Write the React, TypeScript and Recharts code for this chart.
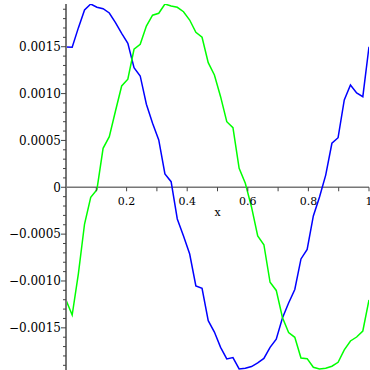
import React from "react";
import { LineChart, Line, XAxis, YAxis, ReferenceLine, ReferenceDot } from "recharts";

const xs = [
  0, 0.0204, 0.0408, 0.0612, 0.0816, 0.102, 0.1224, 0.1429, 0.1633, 0.1837,
  0.2041, 0.2245, 0.2449, 0.2653, 0.2857, 0.3061, 0.3265, 0.3469, 0.3673, 0.3878,
  0.4082, 0.4286, 0.449, 0.4694, 0.4898, 0.5102, 0.5306, 0.551, 0.5714, 0.5918,
  0.6122, 0.6327, 0.6531, 0.6735, 0.6939, 0.7143, 0.7347, 0.7551, 0.7755, 0.7959,
  0.8163, 0.8367, 0.8571, 0.8776, 0.898, 0.9184, 0.9388, 0.9592, 0.9796, 1,
];

const blueSeries = [
  0.001497, 0.001494, 0.001701, 0.001892, 0.001956, 0.001921, 0.001906, 0.00186, 0.001757, 0.001643,
  0.001537, 0.001276, 0.001188, 0.000886, 0.000683, 0.000505, 0.000142, 0.00006, -0.000338, -0.00052,
  -0.000712, -0.001053, -0.001078, -0.001424, -0.001545, -0.001708, -0.001832, -0.001818, -0.001939, -0.001931,
  -0.001913, -0.001875, -0.001827, -0.001708, -0.001621, -0.001395, -0.001235, -0.001091, -0.000765, -0.000664,
  -0.000306, -0.000104, 0.00013, 0.00047, 0.000529, 0.000932, 0.001092, 0.001006, 0.000967, 0.0015,
];

const greenSeries = [
  -0.001203, -0.001363, -0.000925, -0.000392, -0.000107, -0.000026, 0.000416, 0.00054, 0.000814, 0.001081,
  0.001153, 0.001473, 0.001526, 0.001721, 0.001836, 0.001857, 0.001956, 0.001935, 0.001921, 0.001874,
  0.001785, 0.001654, 0.001601, 0.00133, 0.001198, 0.000967, 0.0007, 0.000636, 0.000203, 0.000043,
  -0.00021, -0.00052, -0.000613, -0.001014, -0.001101, -0.00139, -0.00155, -0.001601, -0.001822, -0.001829,
  -0.001921, -0.00194, -0.001932, -0.00191, -0.001868, -0.001736, -0.00164, -0.001598, -0.001534, -0.001203,
];

const xTicks = [0.1, 0.2, 0.3, 0.4, 0.5, 0.6, 0.7, 0.8, 0.9, 1.0];
const xTickLabels = ["", "0.2", "", "0.4", "", "0.6", "", "0.8", "", "1"];

const yTicks = [
  -0.0019, -0.0018, -0.0017, -0.0016, -0.0015, -0.0014, -0.0013, -0.0012, -0.0011, -0.001,
  -0.0009, -0.0008, -0.0007, -0.0006, -0.0005, -0.0004, -0.0003, -0.0002, -0.0001, 0,
  0.0001, 0.0002, 0.0003, 0.0004, 0.0005, 0.0006, 0.0007, 0.0008, 0.0009, 0.001,
  0.0011, 0.0012, 0.0013, 0.0014, 0.0015, 0.0016, 0.0017, 0.0018, 0.0019,
];
const yMajorTicks = [-0.0015, -0.001, -0.0005, 0, 0.0005, 0.001, 0.0015];
const yMajorLabels = ["\u22120.0015", "\u22120.0010", "\u22120.0005", "0", "0.0005", "0.0010", "0.0015"];

const xAxisTitle = "x";

const data = xs.map((x, i) => ({ x, blue: blueSeries[i], green: greenSeries[i] }));

const FONT = "'DejaVu Serif', serif";

function YTick(props: any) {
  const { x, y, payload } = props;
  const v = payload.value;
  const idx = yMajorTicks.findIndex((t) => Math.abs(t - v) < 1e-9);
  const major = idx >= 0;
  return (
    <g>
      <line x1={x - (major ? 5 : 3)} x2={x} y1={y} y2={y} stroke="#444" strokeWidth={1} />
      {major && (
        <text x={x - 5} y={y} dy="0.36em" textAnchor="end" fontSize={12} fontFamily={FONT} fill="#000">
          {yMajorLabels[idx]}
        </text>
      )}
    </g>
  );
}

function makeXTick(label: string) {
  return (p: any) => (
    <g>
      <line x1={p.cx} x2={p.cx} y1={p.cy} y2={p.cy + 4} stroke="#444" strokeWidth={1} />
      {label && (
        <text x={p.cx} y={p.cy + 18} textAnchor="middle" fontSize={11} fontFamily={FONT} fill="#000">
          {label}
        </text>
      )}
    </g>
  );
}

function XTitle(p: any) {
  return (
    <text x={p.cx} y={p.cy + 29} textAnchor="middle" fontSize={11} fontFamily={FONT} fill="#000">
      {xAxisTitle}
    </text>
  );
}

export default function App() {
  return (
    <div style={{ position: "absolute", left: 0, top: 0 }}>
      <LineChart width={370} height={370} data={data} margin={{ top: 4, right: 1, bottom: 0, left: 0 }}>
        <XAxis dataKey="x" type="number" domain={[0, 1]} hide allowDataOverflow />
        <YAxis
          type="number"
          domain={[-0.00195, 0.001956]}
          allowDataOverflow
          ticks={yTicks}
          interval={0}
          width={66}
          tickSize={0}
          tickMargin={0}
          tickLine={false}
          axisLine={{ stroke: "#777", strokeWidth: 2 }}
          tick={<YTick />}
        />
        <ReferenceLine y={0} stroke="#777" strokeWidth={1.5} />
        {xTicks.map((t, i) => (
          <ReferenceDot key={i} x={t} y={0} r={0} ifOverflow="visible" shape={makeXTick(xTickLabels[i])} />
        ))}
        <ReferenceDot x={0.5} y={0} r={0} ifOverflow="visible" shape={XTitle} />
        <Line type="linear" dataKey="blue" stroke="#0000ff" strokeWidth={1.5} dot={false} isAnimationActive={false} />
        <Line type="linear" dataKey="green" stroke="#00ff00" strokeWidth={1.5} dot={false} isAnimationActive={false} />
      </LineChart>
    </div>
  );
}
